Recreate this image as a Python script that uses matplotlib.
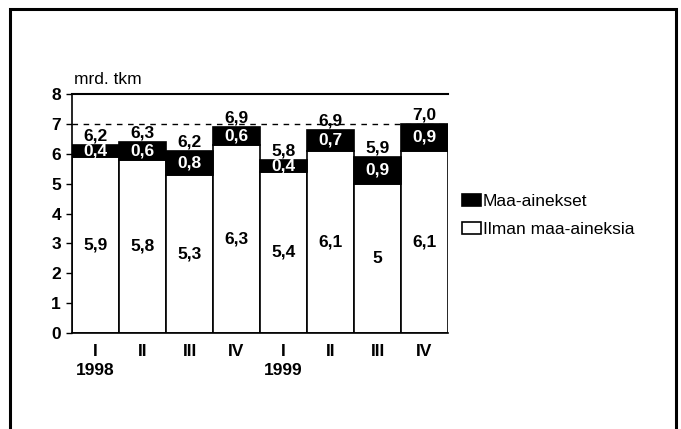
import matplotlib
matplotlib.use("Agg")
import matplotlib.pyplot as plt
from matplotlib.patches import Rectangle

plt.rcParams['font.family'] = ['Liberation Sans', 'DejaVu Sans']

quarters = ["I", "II", "III", "IV", "I", "II", "III", "IV"]
years = ["1998", "", "", "", "1999", "", "", ""]
ilman = [5.9, 5.8, 5.3, 6.3, 5.4, 6.1, 5.0, 6.1]
maa = [0.4, 0.6, 0.8, 0.6, 0.4, 0.7, 0.9, 0.9]
totals = [6.2, 6.3, 6.2, 6.9, 5.8, 6.9, 5.9, 7.0]
ilman_labels = ["5,9", "5,8", "5,3", "6,3", "5,4", "6,1", "5", "6,1"]
maa_labels = ["0,4", "0,6", "0,8", "0,6", "0,4", "0,7", "0,9", "0,9"]
total_labels = ["6,2", "6,3", "6,2", "6,9", "5,8", "6,9", "5,9", "7,0"]
yticks = [0, 1, 2, 3, 4, 5, 6, 7, 8]

fig = plt.figure(figsize=(6.81, 4.29), dpi=100)
ax = fig.add_axes([72/681, 1 - 333/429, (448-72)/681, (333-94)/429])

x = list(range(len(quarters)))
ax.bar(x, ilman, width=1.0, color="white", edgecolor="black", linewidth=1.2,
       label="Ilman maa-aineksia", zorder=2)
ax.bar(x, maa, bottom=ilman, width=1.0, color="black", edgecolor="black",
       linewidth=1.2, label="Maa-ainekset", zorder=2)

ax.axhline(7, color="black", linestyle=(0, (4, 4)), linewidth=1.0, zorder=1)

fs = 12.5
for i in x:
    ax.text(i, ilman[i] / 2, ilman_labels[i], ha="center", va="center",
            fontsize=fs, fontweight="bold", zorder=3)
    ax.text(i, ilman[i] + maa[i] / 2, maa_labels[i], ha="center", va="center",
            fontsize=fs, fontweight="bold", color="white", zorder=3)
    ax.text(i, ilman[i] + maa[i] + 0.04, total_labels[i], ha="center", va="bottom",
            fontsize=fs, fontweight="bold", zorder=3)

ax.set_xlim(-0.5, len(quarters) - 0.5)
ax.set_ylim(0, 8)
ax.set_yticks(yticks)
ax.set_yticklabels([str(t) for t in yticks], fontsize=fs, fontweight="bold")
ax.set_xticks(x)
ax.set_xticklabels([f"{q}\n{y}" if y else q for q, y in zip(quarters, years)],
                   fontsize=fs, fontweight="bold", va="top", linespacing=1.3)
ax.tick_params(axis="x", length=0, pad=8)
ax.tick_params(axis="y", length=4, width=1, direction="out", pad=4)
ax.spines["left"].set_linewidth(1.2)
ax.spines["bottom"].set_linewidth(1.2)
ax.spines["top"].set_linewidth(1.5)
ax.spines["right"].set_visible(False)

ax.text(0.005, 1.03, "mrd. tkm", transform=ax.transAxes, fontsize=fs,
        ha="left", va="bottom")

handles, labels = ax.get_legend_handles_labels()
leg = fig.legend(handles[::-1], labels[::-1], loc="upper left",
                 bbox_to_anchor=(455/681, 1 - 187/429), frameon=False,
                 fontsize=fs, handlelength=1.1, handleheight=0.65,
                 handletextpad=0.1, labelspacing=0.75, borderaxespad=0)

fig.add_artist(Rectangle((10/681, -0.05), (676-10)/681, 1.05 - 8.5/429,
                         transform=fig.transFigure, fill=False,
                         edgecolor="black", linewidth=2.2))

fig.savefig("out.png", dpi=100)
